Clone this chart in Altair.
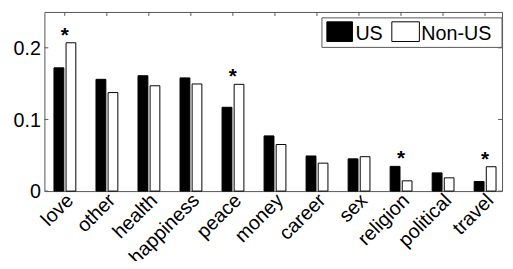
import json
import altair as alt
import pandas as pd

categories = ["love", "other", "health", "happiness", "peace", "money",
              "career", "sex", "religion", "political", "travel"]
us = [0.172, 0.156, 0.161, 0.158, 0.117, 0.077, 0.049, 0.045, 0.0345, 0.0254, 0.0134]
non_us = [0.207, 0.1375, 0.147, 0.1495, 0.149, 0.065, 0.039, 0.048, 0.0143, 0.0185, 0.034]
significant = [True, False, False, False, True, False, False, False, True, False, True]
series = ["US", "Non-US"]
y_ticks = [0, 0.1, 0.2]

W, H = 465, 182
FONT = "Liberation Sans"
FS = 20
AX = "#555555"

idx = list(range(1, len(categories) + 1))
rows = []
for i, c, a, b in zip(idx, categories, us, non_us):
    rows.append({"idx": i, "cat": c, "series": series[0], "value": a})
    rows.append({"idx": i, "cat": c, "series": series[1], "value": b})
df = pd.DataFrame(rows)

stars = pd.DataFrame({
    "idx": idx,
    "top": [max(a, b) for a, b in zip(us, non_us)],
    "sig": significant,
})
stars = stars[stars["sig"]]

xscale = alt.Scale(domain=[0.515, 11.405], nice=False, zero=False)
yscale = alt.Scale(domain=[0, 0.25], nice=False)

label_expr = json.dumps(categories) + "[datum.value - 1]"

base = alt.Chart(df)

bars = base.transform_calculate(
    x0="datum.series == 'US' ? datum.idx - 0.258 : datum.idx + 0.03",
    x1="datum.series == 'US' ? datum.idx - 0.023 : datum.idx + 0.262",
).mark_rect(strokeWidth=1).encode(
    x=alt.X("x0:Q", scale=xscale,
            axis=alt.Axis(values=idx, labelExpr=label_expr, title=None, grid=False,
                          ticks=False, tickSize=0, domain=False, labelAngle=315,
                          labelAlign="right", labelBaseline="middle", labelPadding=6,
                          labelOffset=5, zindex=1,
                          labelFont=FONT, labelFontSize=FS, labelColor="black",
                          labelOverlap=False, labelBound=False)),
    x2="x1:Q",
    y=alt.Y("value:Q", scale=yscale,
            axis=alt.Axis(values=y_ticks, format="~g", title=None, grid=False,
                          ticks=False, tickSize=0, domain=False, labelPadding=4,
                          labelOffset=1,
                          labelFont=FONT, labelFontSize=FS, labelColor="black")),
    y2=alt.datum(0),
    fill=alt.Fill("series:N", scale=alt.Scale(domain=series, range=["#000000", "#ffffff"]),
                  legend=None),
    stroke=alt.Stroke("series:N", scale=alt.Scale(domain=series, range=["#000000", "#000000"]),
                      legend=None),
)

star_layer = alt.Chart(stars).mark_text(
    text="*", font=FONT, fontSize=21, fontWeight="bold", baseline="alphabetic",
    align="center", dy=-1, color="black"
).encode(
    x=alt.X("idx:Q", scale=xscale),
    y=alt.Y("top:Q", scale=yscale),
)

# ticks (inside, MATLAB style)
yt = pd.DataFrame({"v": y_ticks})
left_ticks = alt.Chart(yt).mark_rule(color=AX).encode(
    y=alt.Y("v:Q", scale=yscale), x=alt.value(0), x2=alt.value(4))
right_ticks = alt.Chart(yt).mark_rule(color=AX).encode(
    y=alt.Y("v:Q", scale=yscale), x=alt.value(W - 4), x2=alt.value(W))
xt = pd.DataFrame({"i": idx})
top_ticks = alt.Chart(xt).mark_rule(color=AX).encode(
    x=alt.X("i:Q", scale=xscale), y=alt.value(0), y2=alt.value(4))

# legend
leg_box = alt.Chart(pd.DataFrame({"a": [0]})).mark_rect(
    fill="white", stroke=AX, strokeWidth=1
).encode(x=alt.value(282), x2=alt.value(W), y=alt.value(6), y2=alt.value(36))
leg_us = alt.Chart(pd.DataFrame({"s": [series[0]]})).mark_rect(
    fill="black", stroke="black"
).encode(x=alt.value(287), x2=alt.value(313), y=alt.value(10), y2=alt.value(30))
leg_non = alt.Chart(pd.DataFrame({"s": [series[1]]})).mark_rect(
    fill="white", stroke="black"
).encode(x=alt.value(353), x2=alt.value(381), y=alt.value(10), y2=alt.value(30))
leg_t1 = alt.Chart(pd.DataFrame({"s": [series[0]]})).mark_text(
    font=FONT, fontSize=FS, align="left", baseline="alphabetic", color="black"
).encode(x=alt.value(316), y=alt.value(28.5), text="s:N")
leg_t2 = alt.Chart(pd.DataFrame({"s": [series[1]]})).mark_text(
    font=FONT, fontSize=FS, align="left", baseline="alphabetic", color="black"
).encode(x=alt.value(383), y=alt.value(28.5), text="s:N")

chart = alt.layer(
    bars, star_layer, left_ticks, right_ticks, top_ticks,
    leg_box, leg_us, leg_non, leg_t1, leg_t2
).properties(
    width=W, height=H,
    autosize=alt.AutoSizeParams(type="none"),
    padding={"left": 37, "top": 2, "right": 3, "bottom": 69},
    background="white",
).configure_view(stroke=AX, strokeWidth=1)

chart.save("out.html", embed_options={"renderer": "svg", "actions": False})
